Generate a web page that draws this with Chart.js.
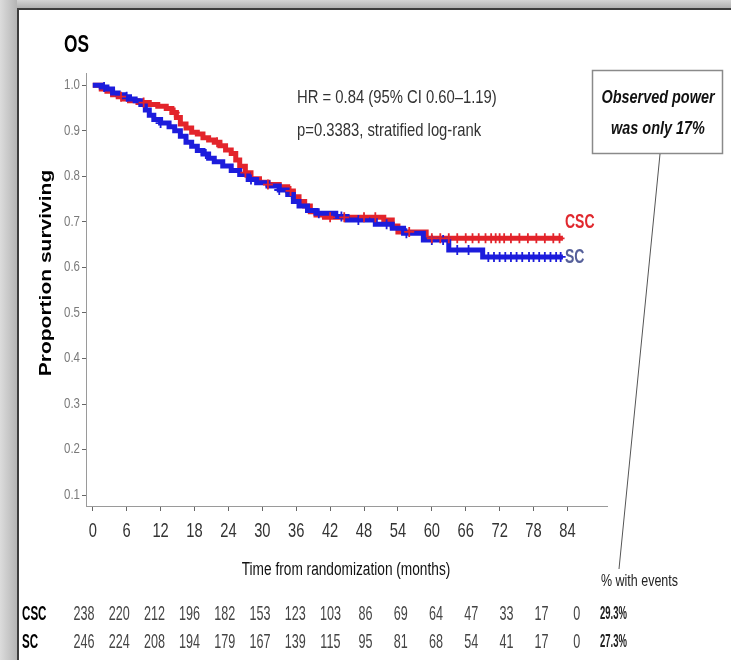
<!DOCTYPE html>
<html>
<head>
<meta charset="utf-8">
<script src="https://cdn.jsdelivr.net/npm/chart.js@4.4.1/dist/chart.umd.min.js"></script>
<style>
  html, body { margin: 0; padding: 0; background: #ffffff; }
  #wrap { width: 731px; height: 660px; position: relative; }
  canvas { display: block; }
</style>
</head>
<body>
<div id="wrap"><canvas id="km" width="731" height="660"></canvas></div>
<script>
// Kaplan-Meier overall survival, two arms (step points: month, proportion surviving)
const cscMonths = [0, 1.5, 2.5, 3.5, 4.5, 5.5, 6.5, 8, 10, 11.5, 13, 14, 14.8, 15.5, 16.5, 17.5, 18.5, 19.5, 20.5, 21.5, 22.5, 23.5, 24.5, 25.3, 26, 27, 28, 29.5, 31, 33, 34.5, 35.5, 36.5, 37.5, 38.5, 39.5, 41, 51.5, 53, 54, 59, 83.2];
const cscSurv   = [1.0, 0.992, 0.987, 0.979, 0.975, 0.970, 0.966, 0.962, 0.958, 0.954, 0.949, 0.940, 0.929, 0.915, 0.906, 0.897, 0.893, 0.885, 0.880, 0.875, 0.867, 0.858, 0.850, 0.836, 0.822, 0.808, 0.795, 0.787, 0.782, 0.777, 0.768, 0.755, 0.745, 0.735, 0.722, 0.715, 0.710, 0.704, 0.691, 0.678, 0.664, 0.664];

const scMonths = [0, 1.5, 2.5, 3.5, 4.5, 5.5, 6.5, 7.5, 8.5, 9.3, 10, 10.8, 12, 13.5, 14.5, 15.5, 16.5, 17.5, 18.5, 19.5, 20.5, 21.5, 23, 24.5, 26, 27.5, 29, 31, 33, 34.5, 35.5, 36.5, 38, 39.5, 43, 45, 50, 53, 55, 58.5, 63, 69, 83.2];
const scSurv   = [1.0, 0.996, 0.992, 0.983, 0.979, 0.975, 0.970, 0.966, 0.958, 0.946, 0.934, 0.925, 0.917, 0.909, 0.900, 0.888, 0.875, 0.866, 0.857, 0.849, 0.840, 0.832, 0.823, 0.813, 0.804, 0.793, 0.786, 0.779, 0.770, 0.760, 0.745, 0.735, 0.725, 0.719, 0.712, 0.704, 0.695, 0.686, 0.675, 0.660, 0.638, 0.623, 0.623];

// Censoring times (months)
const cscCensor = [5, 9, 14.5, 22, 27, 31, 35, 42, 44.5, 48, 50, 56, 60, 61.5, 63, 64.5, 66, 67.2, 68.3, 69.5, 70.5, 71.3, 72, 72.8, 74, 75.5, 77, 78.5, 80, 81.5, 82.6];
const scCensor  = [2, 6, 12, 20, 28, 33, 40, 44, 47, 52, 55.5, 60, 62, 64.5, 66.5, 70, 71, 72, 73, 74, 75, 76, 77.2, 78, 79, 80, 81, 82, 82.8];

// Axis ticks
const xTickValues = [0, 6, 12, 18, 24, 30, 36, 42, 48, 54, 60, 66, 72, 78, 84];
const yTickValues = [0.1, 0.2, 0.3, 0.4, 0.5, 0.6, 0.7, 0.8, 0.9, 1.0];

// Numbers at risk and event rates
const armNames  = ['CSC', 'SC'];
const riskCSC   = [238, 220, 212, 196, 182, 153, 123, 103, 86, 69, 64, 47, 33, 17, 0];
const riskSC    = [246, 224, 208, 194, 179, 167, 139, 115, 95, 81, 68, 54, 41, 17, 0];
const eventPct  = ['29.3%', '27.3%'];

const RED = '#e3242b';
const BLUE = '#1c1cdc';
const FONT = '"Liberation Sans", Arial, sans-serif';

function stepPoints(times, surv) {
  return times.map((t, i) => ({ x: t, y: surv[i] }));
}
function survivalAt(times, surv, t) {
  let s = surv[0];
  for (let i = 0; i < times.length; i++) { if (times[i] <= t) s = surv[i]; }
  return s;
}
function censorPoints(cens, times, surv) {
  return cens.map(t => ({ x: t, y: survivalAt(times, surv, t) }));
}

// Condensed text helper
function txt(ctx, s, x, y, o) {
  ctx.save();
  ctx.font = o.font;
  ctx.fillStyle = o.color || '#000';
  ctx.textBaseline = 'middle';
  ctx.textAlign = o.align || 'left';
  ctx.translate(x, y);
  ctx.scale(o.sx || 0.76, 1);
  if (o.rot) ctx.rotate(o.rot);
  ctx.fillText(s, 0, 0);
  ctx.restore();
}

const decorations = {
  id: 'decorations',
  beforeDraw(chart) {
    const ctx = chart.ctx;
    ctx.save();
    // window frame
    let g = ctx.createLinearGradient(0, 0, 17, 0);
    g.addColorStop(0, '#dcdcdc'); g.addColorStop(1, '#b4b4b4');
    ctx.fillStyle = g; ctx.fillRect(0, 0, 17, 660);
    g = ctx.createLinearGradient(0, 0, 0, 8);
    g.addColorStop(0, '#d4d4d4'); g.addColorStop(1, '#b0b0b0');
    ctx.fillStyle = g; ctx.fillRect(17, 0, 714, 8);
    ctx.strokeStyle = '#3c3c3c'; ctx.lineWidth = 2;
    ctx.beginPath(); ctx.moveTo(18, 660); ctx.lineTo(18, 9); ctx.lineTo(731, 9); ctx.stroke();
    ctx.restore();
  },
  afterDraw(chart) {
    const ctx = chart.ctx;
    const xs = chart.scales.x, ys = chart.scales.y;

    // title
    txt(ctx, 'OS', 64, 45, { font: 'bold 24px ' + FONT, sx: 0.72 });

    // tick labels
    xs.ticks.forEach(t => {
      txt(ctx, String(t.value), xs.getPixelForValue(t.value), 531, { font: '21px ' + FONT, color: '#333', align: 'center', sx: 0.7 });
    });
    ys.ticks.forEach(t => {
      txt(ctx, t.value.toFixed(1), 80, ys.getPixelForValue(t.value), { font: '14px ' + FONT, color: '#7a7a7a', align: 'right', sx: 0.82 });
    });

    // axis titles
    txt(ctx, 'Time from randomization (months)', 346, 570, { font: '18px ' + FONT, color: '#111', align: 'center', sx: 0.76 });
    txt(ctx, 'Proportion surviving', 47, 273, { font: 'bold 21px ' + FONT, color: '#000', align: 'center', sx: 0.76, rot: -Math.PI / 2 });

    // statistics
    txt(ctx, 'HR = 0.84 (95% CI 0.60\u20131.19)', 297, 98, { font: '19px ' + FONT, color: '#333', sx: 0.78 });
    txt(ctx, 'p=0.3383, stratified log-rank', 297, 131, { font: '19px ' + FONT, color: '#333', sx: 0.78 });

    // arm labels at the end of the curves
    txt(ctx, 'CSC', 565, 222, { font: 'bold 20px ' + FONT, color: '#e0282e', sx: 0.7 });
    txt(ctx, 'SC', 565, 257, { font: 'bold 20px ' + FONT, color: '#56609a', sx: 0.7 });

    // callout box with leader line
    ctx.save();
    ctx.fillStyle = '#fff';
    ctx.fillRect(592, 70, 131, 83);
    ctx.strokeStyle = '#8a8a8a'; ctx.lineWidth = 1.5;
    ctx.strokeRect(592.5, 70.5, 130, 83);
    ctx.strokeStyle = '#555'; ctx.lineWidth = 1;
    ctx.beginPath(); ctx.moveTo(660, 154); ctx.lineTo(619, 569); ctx.stroke();
    ctx.restore();
    txt(ctx, 'Observed power', 658, 98, { font: 'italic bold 19px ' + FONT, color: '#111', align: 'center', sx: 0.76 });
    txt(ctx, 'was only 17%', 658, 129, { font: 'italic bold 19px ' + FONT, color: '#111', align: 'center', sx: 0.76 });

    // risk table
    txt(ctx, '% with events', 601, 582, { font: '16px ' + FONT, color: '#222', sx: 0.78 });
    const rows = [riskCSC, riskSC];
    const rowY = [614, 642];
    rows.forEach((r, ri) => {
      txt(ctx, armNames[ri], 22, rowY[ri], { font: 'bold 20px ' + FONT, color: '#000', sx: 0.58 });
      r.forEach((n, k) => {
        txt(ctx, String(n), 84 + k * 35.2, rowY[ri], { font: '21px ' + FONT, color: '#444', align: 'center', sx: 0.6 });
      });
      txt(ctx, eventPct[ri], 600, rowY[ri], { font: 'bold 19px ' + FONT, color: '#222', sx: 0.5 });
    });
  }
};

new Chart(document.getElementById('km'), {
  type: 'line',
  data: {
    datasets: [
      { data: censorPoints(cscCensor, cscMonths, cscSurv), showLine: false, pointStyle: 'cross', pointRadius: 5, pointBorderWidth: 1.8, pointBorderColor: RED, order: 0 },
      { data: censorPoints(scCensor, scMonths, scSurv), showLine: false, pointStyle: 'cross', pointRadius: 5, pointBorderWidth: 1.8, pointBorderColor: BLUE, order: 1 },
      { data: stepPoints(scMonths, scSurv), stepped: true, borderColor: BLUE, borderWidth: 5, pointRadius: 0, fill: false, order: 2 },
      { data: stepPoints(cscMonths, cscSurv), stepped: true, borderColor: RED, borderWidth: 5, pointRadius: 0, fill: false, order: 3 }
    ]
  },
  options: {
    responsive: false,
    animation: false,
    devicePixelRatio: 1,
    layout: { padding: { top: 73, right: 124, left: 0, bottom: 0 } },
    plugins: { legend: { display: false }, tooltip: { enabled: false } },
    scales: {
      x: {
        type: 'linear', min: -1.2, max: 91,
        afterBuildTicks: s => { s.ticks = xTickValues.map(v => ({ value: v })); },
        afterFit: s => { s.height = 154; },
        ticks: { display: false },
        grid: { display: true, drawOnChartArea: false, drawTicks: true, tickLength: 5, color: '#666' },
        border: { display: true, color: '#9a9a9a', width: 1 }
      },
      y: {
        type: 'linear', min: 0.076, max: 1.027,
        afterBuildTicks: s => { s.ticks = yTickValues.map(v => ({ value: v })); },
        afterFit: s => { s.width = 86; },
        ticks: { display: false },
        grid: { display: true, drawOnChartArea: false, drawTicks: true, tickLength: 4, color: '#666' },
        border: { display: true, color: '#9a9a9a', width: 1 }
      }
    }
  },
  plugins: [decorations]
});
</script>
</body>
</html>
